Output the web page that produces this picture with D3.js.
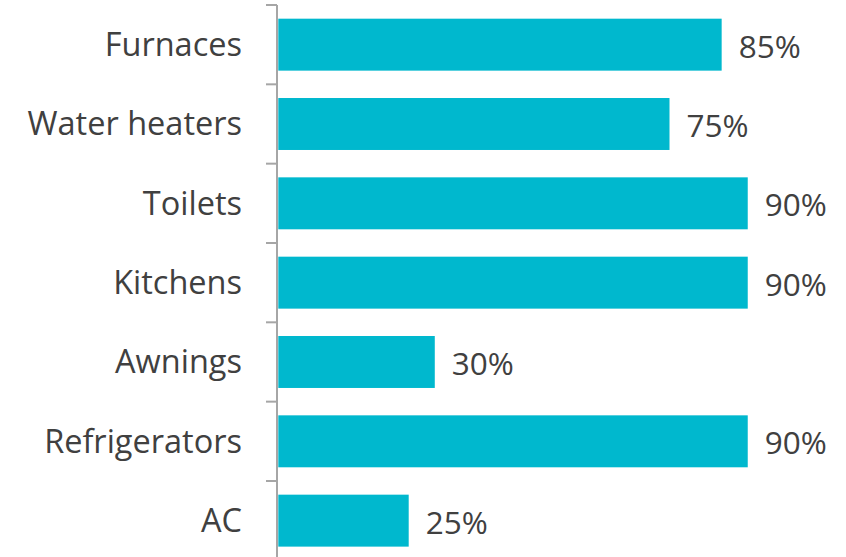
<!DOCTYPE html>
<html>
<head>
<meta charset="utf-8">
<script src="https://cdn.jsdelivr.net/npm/d3@7"></script>
<style>
  html, body { margin: 0; padding: 0; background: #fff; }
  svg { display: block; }
</style>
</head>
<body>
<svg id="chart" width="846" height="557"></svg>
<script>
// Share of items, by category
const categories = ["Furnaces", "Water heaters", "Toilets", "Kitchens", "Awnings", "Refrigerators", "AC"];
const values = [85, 75, 90, 90, 30, 90, 25];

const svg = d3.select("#chart");
const axisX = 277;

const y = d3.scaleBand()
  .domain(categories)
  .range([5, 5 + 79.33 * categories.length])
  .paddingInner(0.345)
  .paddingOuter(0.1725);

const x = d3.scaleLinear()
  .domain([0, 100])
  .range([axisX + 1.3, axisX + 1.3 + 521.6]);

const fontFamily = "'Open Sans', sans-serif";
const textColor = "#404040";

// bars
svg.selectAll("rect.bar")
  .data(categories)
  .join("rect")
  .attr("class", "bar")
  .attr("x", x(0))
  .attr("y", d => y(d))
  .attr("width", (d, i) => x(values[i]) - x(0))
  .attr("height", y.bandwidth())
  .attr("fill", "#00B8CE");

// category axis: line plus ticks on band boundaries
const axisG = svg.append("g");
axisG.append("line")
  .attr("x1", axisX).attr("x2", axisX)
  .attr("y1", y.range()[0]).attr("y2", y.range()[1])
  .attr("stroke", "#a6a6a6").attr("stroke-width", 2);

const tickYs = d3.range(categories.length + 1).map(i => y.range()[0] + i * y.step());
axisG.selectAll("line.tick")
  .data(tickYs)
  .join("line")
  .attr("class", "tick")
  .attr("x1", axisX - 11).attr("x2", axisX)
  .attr("y1", d => d).attr("y2", d => d)
  .attr("stroke", "#a6a6a6").attr("stroke-width", 2);

// category labels
svg.selectAll("text.cat")
  .data(categories)
  .join("text")
  .attr("class", "cat")
  .attr("x", axisX - 35)
  .attr("y", d => y(d) + y.bandwidth() / 2)
  .attr("dy", "0.35em")
  .attr("text-anchor", "end")
  .attr("font-family", fontFamily)
  .attr("font-size", 32.5)
  .attr("fill", textColor)
  .text(d => d);

// value labels
svg.selectAll("text.val")
  .data(categories)
  .join("text")
  .attr("class", "val")
  .attr("x", (d, i) => x(values[i]) + 17)
  .attr("y", d => y(d) + y.bandwidth() / 2 + 2)
  .attr("dy", "0.35em")
  .attr("font-family", fontFamily)
  .attr("font-size", 31.5)
  .attr("fill", textColor)
  .text((d, i) => values[i] + "%");
</script>
</body>
</html>
